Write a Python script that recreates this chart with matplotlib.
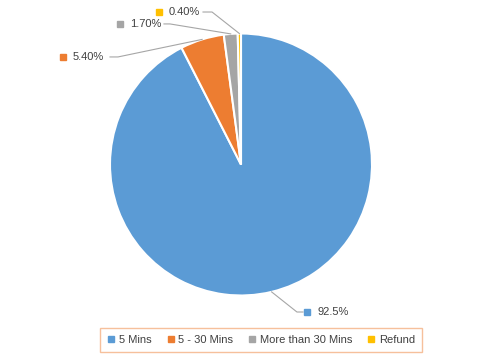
import matplotlib
matplotlib.use("Agg")
import matplotlib.pyplot as plt
from matplotlib.lines import Line2D
import numpy as np

plt.rcParams["font.family"] = ["Liberation Sans", "DejaVu Sans"]

categories = ["5 Mins", "5 - 30 Mins", "More than 30 Mins", "Refund"]
values = [92.5, 5.4, 1.7, 0.4]
value_labels = ["92.5%", "5.40%", "1.70%", "0.40%"]
colors = ["#5B9BD5", "#ED7D31", "#A5A5A5", "#FFC000"]

# label layout in radius units: marker position, elbow x, line end x
label_marker = [(0.504, -1.126), (-1.359, 0.821), (-0.924, 1.073), (-0.626, 1.164)]
label_elbow_x = [0.427, -0.939, -0.542, -0.221]
label_end_x = [0.473, -1.0, -0.588, -0.29]

W, H = 483, 360
cx, cy, r = 241, 164.5, 131

fig = plt.figure(figsize=(W / 100, H / 100), dpi=100)
fig.patch.set_facecolor("white")
ax = fig.add_axes([(cx - r) / W, (H - cy - r) / H, 2 * r / W, 2 * r / H])

wedges, _ = ax.pie(values, colors=colors, startangle=90, counterclock=False, radius=1,
                   wedgeprops=dict(edgecolor="white", linewidth=1.5))
ax.set_xlim(-1, 1)
ax.set_ylim(-1, 1)
ax.set_aspect("equal")
ax.axis("off")

for w, lab, col, (mx, my), ex, lx in zip(wedges, value_labels, colors,
                                         label_marker, label_elbow_x, label_end_x):
    ang = np.deg2rad((w.theta1 + w.theta2) / 2)
    px, py = np.cos(ang), np.sin(ang)
    ax.plot([px, ex, lx], [py, my, my], color="#A6A6A6", lw=0.8, clip_on=False, zorder=1)
    ax.plot([mx], [my], marker="s", ms=4, color=col, clip_on=False, linestyle="none")
    ax.text(mx + 0.077, my, lab, fontsize=8, color="#404040", ha="left", va="center",
            clip_on=False)

handles = [Line2D([], [], marker="s", ms=5, color=c, linestyle="none") for c in colors]
leg = fig.legend(handles, categories, loc="center", bbox_to_anchor=(261 / W, 20 / H),
                 ncol=4, fontsize=8, frameon=True, fancybox=False, handlelength=0.8,
                 handletextpad=0.3, columnspacing=1.3, borderpad=0.6, labelcolor="#404040")
leg.get_frame().set_edgecolor("#F4B183")
leg.get_frame().set_linewidth(1.0)

fig.savefig("out.png", dpi=100, facecolor="white")
